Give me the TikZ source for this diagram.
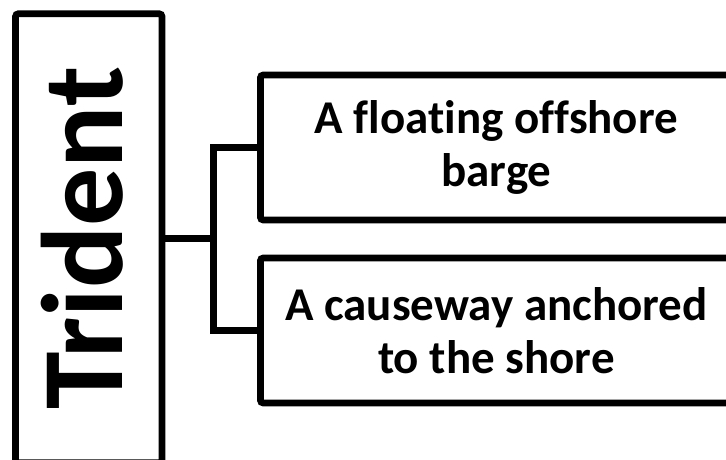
\documentclass[tikz,border=0pt]{standalone}
\usepackage{fontspec}
\setmainfont{Carlito}[Ligatures={NoCommon}]
\usepackage{tikz}

\begin{document}
\begin{tikzpicture}[x=1pt, y=1pt, line width=6.8pt,
		trunk/.style={draw, rounded corners=3pt, rotate=90, minimum width=449pt, minimum height=146.5pt,
			text height=66.5pt, text depth=0pt, font=\fontsize{116}{120}\selectfont\bfseries},
		branch/.style={draw, rounded corners=3pt, anchor=west, minimum width=472pt, minimum height=145pt,
			align=center, font=\fontsize{47}{53}\selectfont\bfseries}]
			\clip (0,0) rectangle (726,459);
			\node[trunk] (trident) at (88.75,220.75) {Trident};
			\node[branch] (barge) at (257,311.5) {A floating offshore\\barge};
			\node[branch] (shore) at (257,128.5) {A causeway anchored\\to the shore};
			% the trident's right side is its south anchor, since the node is turned
			\draw (trident.south) -- ++(48,0) coordinate (fork);
			\draw (barge.west) -| (fork) |- (shore.west);
		\end{tikzpicture}
\end{document}
